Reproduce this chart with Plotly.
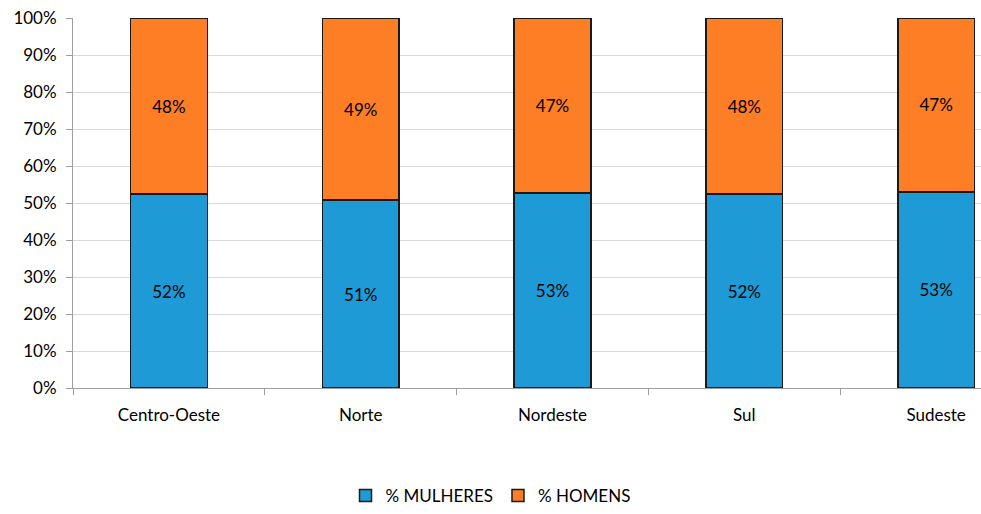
import plotly.graph_objects as go

categories = ["Centro-Oeste", "Norte", "Nordeste", "Sul", "Sudeste"]
mulheres = [52.4, 50.8, 52.7, 52.4, 53.0]
homens = [47.6, 49.2, 47.3, 47.6, 47.0]
y_ticks = list(range(0, 101, 10))
y_tick_labels = [f"{t}%" for t in y_ticks]

FONT = "Lato, Carlito, Calibri, sans-serif"
BLUE = "#1E9BD7"
ORANGE = "#FD7E24"

fig = go.Figure()
fig.add_trace(go.Bar(
    x=categories, y=mulheres, name="% MULHERES",
    marker=dict(color=BLUE, line=dict(color="#1a1a1a", width=1.5)),
    text=[f"{round(v)}%" for v in mulheres], textposition="inside",
    insidetextanchor="middle", textfont=dict(color="black", size=17, family=FONT),
    width=0.4,
))
fig.add_trace(go.Bar(
    x=categories, y=homens, name="% HOMENS",
    marker=dict(color=ORANGE, line=dict(color="#1a1a1a", width=1.5)),
    text=[f"{round(v)}%" for v in homens], textposition="inside",
    insidetextanchor="middle", textfont=dict(color="black", size=17, family=FONT),
    width=0.4,
))

fig.update_layout(
    barmode="stack",
    width=981, height=514,
    margin=dict(l=73, r=0, t=18, b=126, autoexpand=False),
    plot_bgcolor="white", paper_bgcolor="white",
    font=dict(family=FONT, size=17, color="black"),
    showlegend=True,
    legend=dict(orientation="h", xref="container", yref="container",
                x=0.5, xanchor="center", y=0.0, yanchor="bottom",
                font=dict(size=17, family=FONT), traceorder="normal",
                borderwidth=0, bgcolor="rgba(0,0,0,0)"),
    uniformtext=dict(mode="show", minsize=10),
)
fig.update_xaxes(
    range=[-0.5, 4.234], showline=True, linecolor="#9E9E9E", linewidth=1,
    ticks="outside", tickson="boundaries", ticklen=6, tickcolor="#9E9E9E",
    showgrid=False, ticklabelstandoff=12, tickfont=dict(size=17), automargin=False,
)
fig.update_yaxes(
    range=[0, 100], tickvals=y_ticks, ticktext=y_tick_labels,
    showline=True, linecolor="#9E9E9E", linewidth=1,
    ticks="outside", ticklen=6, tickcolor="#9E9E9E",
    showgrid=True, gridcolor="#D9D9D9", gridwidth=1,
    ticklabelstandoff=6, tickfont=dict(size=17), zeroline=False, automargin=False,
)

fig.write_html("out.html", config={"displayModeBar": False},
               post_script="document.body.style.margin='0';document.body.style.overflow='hidden';")
